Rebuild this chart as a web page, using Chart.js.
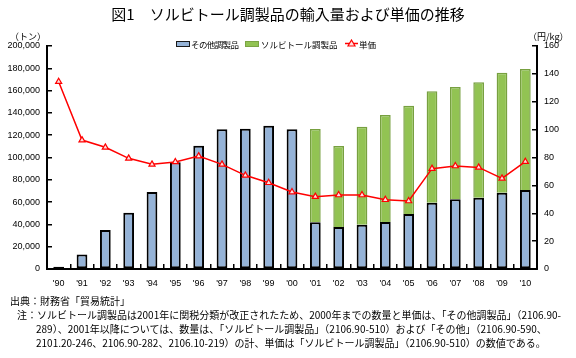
<!DOCTYPE html>
<html>
<head>
<meta charset="utf-8">
<script src="https://cdn.jsdelivr.net/npm/chart.js@4/dist/chart.umd.min.js"></script>
<style>
  html, body { margin: 0; padding: 0; background: #fff; }
  body { width: 576px; height: 358px; position: relative; overflow: hidden;
         font-family: "Noto Sans CJK JP", "Noto Sans", sans-serif; color: #000; }
  #wrap { position: absolute; left: 0; top: 0; width: 576px; height: 358px; }
  .abs { position: absolute; white-space: nowrap; }
  #title { left: 0; width: 576px; top: 3px; text-align: center; font-size: 15px; }
  .unit { font-size: 9px; top: 30px; }
  .leg { position: absolute; top: 38px; font-size: 8.5px; line-height: 12px; white-space: nowrap; }
  .box { position: absolute; top: 41px; width: 12px; height: 4px; }
  .note { font-size: 10px; line-height: 14px; }
</style>
</head>
<body>
<div id="wrap"><canvas id="chart" width="576" height="358"></canvas></div>
<div id="title" class="abs">図1　ソルビトール調製品の輸入量および単価の推移</div>
<div class="abs unit" style="left:10px">（トン）</div>
<div class="abs unit" style="left:528px">（円/kg）</div>

<span class="box" style="left:176px;background:#95b3d7;border:1.5px solid #1a1a1a"></span>
<span class="leg" style="left:191px;letter-spacing:-0.6px">その他調製品</span>
<span class="box" style="left:245px;background:#92c353;border:1.5px solid #7ba444"></span>
<span class="leg" style="left:261px">ソルビトール調製品</span>
<svg class="abs" style="left:345px;top:39px" width="13" height="8"><line x1="0" y1="4.5" x2="13" y2="4.5" stroke="#ff0000" stroke-width="1.5"/><polygon points="6.5,1 10,7 3,7" fill="#ffe0e0" stroke="#ff0000" stroke-width="1.2"/></svg>
<span class="leg" style="left:359px">単価</span>

<div class="abs note" style="left:10px; top:294px">出典：財務省「貿易統計」</div>
<div class="abs note" style="left:17px; top:308px">注：ソルビトール調製品は2001年に関税分類が改正されたため、2000年までの数量と単価は、「その他調製品」（2106.90-<br>
<span style="padding-left:19px">289）、2001年以降については、数量は、「ソルビトール調製品」（2106.90-510）および「その他」（2106.90-590、</span><br>
<span style="padding-left:19px">2101.20-246、2106.90-282、2106.10-219）の計、単価は「ソルビトール調製品」（2106.90-510）の数値である。</span></div>

<script>
// Categories and series
const years = ["'90", "'91", "'92", "'93", "'94", "'95", "'96", "'97", "'98", "'99", "'00",
               "'01", "'02", "'03", "'04", "'05", "'06", "'07", "'08", "'09", "'10"];

// その他調製品 (tons)
const otherQty = [2000, 13000, 35000, 50500, 69000, 95700, 110500, 125300, 125800, 128500, 125300,
                  41900, 37700, 39700, 42200, 49300, 59500, 62500, 64000, 68400, 70900];

// ソルビトール調製品 (tons), only from 2001
const sorbitolQty = [null, null, null, null, null, null, null, null, null, null, null,
                     83600, 72600, 87900, 95900, 97200, 99900, 100700, 103400, 107700, 108500];

// 単価 (yen/kg)
const unitPrice = [134.4, 92.5, 87.3, 79.4, 75.1, 76.8, 81.0, 75.1, 67.2, 61.9, 55.2,
                   51.9, 53.1, 53.1, 49.7, 48.8, 72.0, 73.9, 72.9, 65.0, 77.0];

const leftTicks = { min: 0, max: 200000, step: 20000 };
const rightTicks = { min: 0, max: 160, step: 20 };

const tickFont = { family: '"Liberation Sans", Arial, sans-serif', size: 9 };

const ctx = document.getElementById('chart').getContext('2d');

new Chart(ctx, {
    type: 'bar',
    data: {
        labels: years,
        datasets: [
            {
                type: 'line',
                label: '単価',
                data: unitPrice,
                yAxisID: 'yPrice',
                borderColor: '#ff0000',
                borderWidth: 1.5,
                pointStyle: 'triangle',
                pointRadius: 3.5,
                pointBackgroundColor: '#ffe0e0',
                pointBorderColor: '#ff0000',
                pointBorderWidth: 1.2,
                tension: 0,
                order: 0
            },
            {
                label: 'その他調製品',
                data: otherQty,
                yAxisID: 'yQty',
                backgroundColor: '#95b3d7',
                borderColor: '#000000',
                borderWidth: 2,
                borderSkipped: false,
                barPercentage: 0.46,
                categoryPercentage: 1,
                stack: 'qty',
                order: 1
            },
            {
                label: 'ソルビトール調製品',
                data: sorbitolQty,
                yAxisID: 'yQty',
                backgroundColor: '#92c353',
                borderColor: '#77a040',
                borderWidth: 1.5,
                borderSkipped: 'start',
                barPercentage: 0.46,
                categoryPercentage: 1,
                stack: 'qty',
                order: 2
            }
        ]
    },
    options: {
        responsive: false,
        animation: false,
        layout: { padding: { left: 0, right: 0, top: 46, bottom: 69 } },
        plugins: { legend: { display: false }, tooltip: { enabled: false } },
        scales: {
            x: {
                stacked: true,
                offset: true,
                grid: { drawOnChartArea: false, drawTicks: true, tickLength: -5, color: '#000', lineWidth: 1.5, offset: true },
                border: { color: '#000', width: 2 },
                ticks: { color: '#000', font: tickFont, padding: 14, maxRotation: 0, autoSkip: false },
                afterFit: (s) => { s.height = 20; }
            },
            yQty: {
                position: 'left',
                stacked: true,
                min: leftTicks.min,
                max: leftTicks.max,
                grid: { drawOnChartArea: false, drawTicks: true, tickLength: -5, color: '#000', lineWidth: 1.5 },
                border: { color: '#000', width: 2 },
                ticks: {
                    stepSize: leftTicks.step, color: '#000', font: tickFont, padding: 12,
                    callback: (v) => v.toLocaleString('en-US')
                },
                afterFit: (s) => { s.width = 47; }
            },
            yPrice: {
                position: 'right',
                min: rightTicks.min,
                max: rightTicks.max,
                grid: { drawOnChartArea: false, drawTicks: true, tickLength: -5, color: '#000', lineWidth: 1.5 },
                border: { color: '#000', width: 2 },
                ticks: { stepSize: rightTicks.step, color: '#000', font: tickFont, padding: 12 },
                afterFit: (s) => { s.width = 39; }
            }
        }
    }
});
</script>
</body>
</html>
